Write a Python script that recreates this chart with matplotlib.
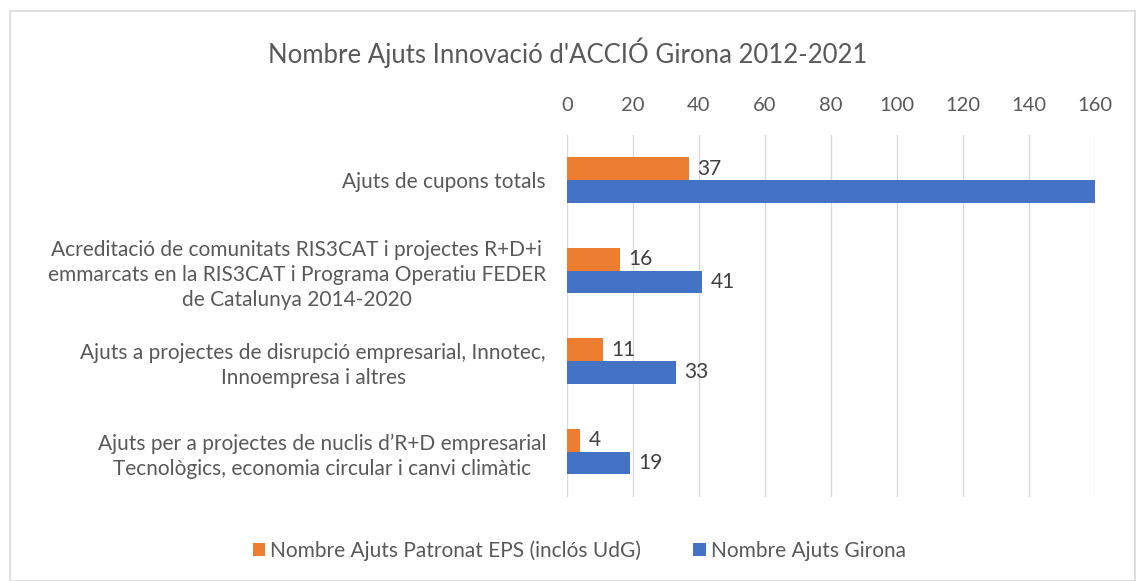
import matplotlib.pyplot as plt
import matplotlib.patches as mpatches
import numpy as np

categories = [
    "Ajuts de cupons totals",
    "Acreditació de comunitats RIS3CAT i projectes R+D+i\nemmarcats en la RIS3CAT i Programa Operatiu FEDER\nde Catalunya 2014-2020",
    "Ajuts a projectes de disrupció empresarial, Innotec,\nInnoempresa i altres",
    "Ajuts per a projectes de nuclis d’R+D empresarial\nTecnològics, economia circular i canvi climàtic",
]
patronat = [37, 16, 11, 4]
girona = [161, 41, 33, 19]  # first bar runs past the axis max, label hidden
series_names = ["Nombre Ajuts Patronat EPS (inclós UdG)", "Nombre Ajuts Girona"]
ticks = [0, 20, 40, 60, 80, 100, 120, 140, 160]

orange = "#ED7D31"
blue = "#4472C4"
gray = "#595959"

plt.rcParams['font.family'] = ['Lato', 'DejaVu Sans']

fig = plt.figure(figsize=(11.36, 5.81), dpi=100)
ax = fig.add_axes([0.499, 0.145, 0.465, 0.623])

# chart border
fig.patches.append(mpatches.Rectangle((0.009, 0.0), 0.99, 0.981, transform=fig.transFigure,
                                      fill=False, edgecolor="#D9D9D9", linewidth=1.2))

y = np.arange(len(categories))
h = 0.25
b1 = ax.barh(y - h / 2, patronat, height=h, color=orange, label=series_names[0])
b2 = ax.barh(y + h / 2, girona, height=h, color=blue, label=series_names[1])

ax.set_xlim(0, 160)
ax.set_ylim(len(categories) - 0.5, -0.5)
ax.xaxis.tick_top()
ax.set_xticks(ticks)
ax.tick_params(axis='x', length=0, labelsize=14.5, colors=gray, pad=15)
ax.set_yticks(y)
ax.set_yticklabels(categories, fontsize=15, color=gray, linespacing=1.32)
for lbl in ax.get_yticklabels():
    lbl.set_multialignment('center')
ax.tick_params(axis='y', length=0, pad=15)
ax.grid(axis='x', color="#D9D9D9", linewidth=1)
ax.set_axisbelow(True)
for s in ax.spines.values():
    s.set_visible(False)

for bars, vals in ((b1, patronat), (b2, girona)):
    for bar, v in zip(bars, vals):
        if v > 160:
            continue
        ax.text(v + 2.5, bar.get_y() + bar.get_height() / 2, str(v), va='center', ha='left',
                fontsize=15, color="#404040")

fig.text(0.5, 0.91, "Nombre Ajuts Innovació d'ACCIÓ Girona 2012-2021", ha='center', va='center',
         fontsize=18.5, color=gray)

fig.legend(handles=[b1, b2], loc='center', bbox_to_anchor=(0.51, 0.053), ncol=2, frameon=False,
           fontsize=15, labelcolor=gray, handlelength=0.6, handleheight=0.6, handletextpad=0.25,
           columnspacing=2.5)

fig.savefig("out.png", dpi=100)
